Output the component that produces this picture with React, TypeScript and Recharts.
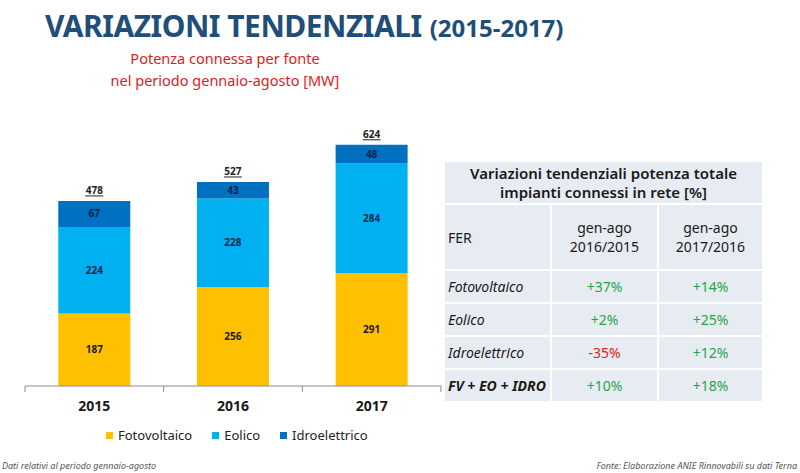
import React from "react";
import { Bar, BarChart, LabelList, Legend, XAxis, YAxis } from "recharts";

const years = ["2015", "2016", "2017"];
const fotovoltaico = [187, 256, 291];
const eolico = [224, 228, 284];
const idroelettrico = [67, 43, 48];
const totali = [478, 527, 624];

const tableRows = ["Fotovoltaico", "Eolico", "Idroelettrico", "FV + EO + IDRO"];
const var2016 = ["+37%", "+2%", "-35%", "+10%"];
const var2017 = ["+14%", "+25%", "+12%", "+18%"];

const seriesOrder = ["fv", "eo", "idro"];

const data = years.map((y, i) => ({
  year: y,
  fv: fotovoltaico[i],
  eo: eolico[i],
  idro: idroelettrico[i],
  total: totali[i],
}));

const FONT = "'Noto Sans', 'Open Sans', sans-serif";
const GREEN = "#1fa64a";
const RED = "#e0201b";

function YearTick(props: any) {
  const { x, y, payload, index } = props;
  const half = payload.offset || 69;
  return (
    <g>
      <line x1={x - half} x2={x - half} y1={y - 8} y2={y - 2} stroke="#8c8c8c" />
      {index === years.length - 1 && (
        <line x1={x + half} x2={x + half} y1={y - 8} y2={y - 2} stroke="#8c8c8c" />
      )}
      <text x={x} y={y + 17} textAnchor="middle" fontSize={14} fontWeight={700} fill="#1a1a1a" fontFamily={FONT}>
        {payload.value}
      </text>
    </g>
  );
}

function TotalLabel(props: any) {
  const { x, y, width, value } = props;
  const cx = x + width / 2;
  return (
    <g>
      <text x={cx} y={y - 7} textAnchor="middle" fontSize={10} fontWeight={700} fill="#222" fontFamily={FONT}>
        {value}
      </text>
      <line x1={cx - 9} x2={cx + 9} y1={y - 5} y2={y - 5} stroke="#222" strokeWidth={1} />
    </g>
  );
}

function LegendContent(props: any) {
  const items = [...(props.payload || [])].sort(
    (a: any, b: any) => seriesOrder.indexOf(a.dataKey) - seriesOrder.indexOf(b.dataKey)
  );
  return (
    <div style={{ display: "flex", gap: 20, paddingLeft: 106, fontFamily: FONT, fontSize: 13, color: "#222" }}>
      {items.map((p: any) => (
        <div key={p.value} style={{ display: "flex", alignItems: "center", gap: 5 }}>
          <span style={{ width: 7, height: 7, background: p.color, display: "inline-block" }} />
          <span>{p.value}</span>
        </div>
      ))}
    </div>
  );
}

const cell: React.CSSProperties = {
  background: "#e7ebf2",
  display: "flex",
  alignItems: "center",
  fontSize: 14,
  color: "#1a1a1a",
};

export default function App() {
  return (
    <div
      style={{
        position: "absolute",
        left: 0,
        top: 0,
        width: 800,
        height: 473,
        background: "#fff",
        fontFamily: FONT,
        overflow: "hidden",
      }}
    >
      <div style={{ position: "absolute", left: 45, top: 5, color: "#1f4e79", fontWeight: 700, whiteSpace: "nowrap" }}>
        <span style={{ fontSize: 30, letterSpacing: -0.5 }}>VARIAZIONI TENDENZIALI</span>
        <span style={{ fontSize: 24, marginLeft: 8 }}>(2015-2017)</span>
      </div>
      <div
        style={{
          position: "absolute",
          left: 75,
          width: 300,
          top: 47,
          textAlign: "center",
          color: RED,
          fontSize: 14.5,
          lineHeight: "22px",
        }}
      >
        Potenza connessa per fonte
        <br />
        nel periodo gennaio-agosto [MW]
      </div>

      <div style={{ position: "absolute", left: 0, top: 0 }}>
        <BarChart
          width={450}
          height={473}
          data={data}
          margin={{ top: 115, right: 9, left: 25, bottom: 57 }}
          barCategoryGap="24%"
        >
          <XAxis
            dataKey="year"
            axisLine={{ stroke: "#8c8c8c" }}
            tickLine={false}
            tick={<YearTick />}
            height={30}
          />
          <YAxis hide domain={[0, 700]} />
          <Legend
            layout="horizontal"
            verticalAlign="middle"
            align="center"
            wrapperStyle={{ top: 426, left: 0, width: 450 }}
            content={<LegendContent />}
          />
          <Bar dataKey="fv" name="Fotovoltaico" stackId="a" fill="#ffc000" isAnimationActive={false}>
            <LabelList dataKey="fv" position="center" fontSize={10} fontWeight={700} fill="#1a1a1a" fontFamily={FONT} />
          </Bar>
          <Bar dataKey="eo" name="Eolico" stackId="a" fill="#00b0f0" isAnimationActive={false}>
            <LabelList dataKey="eo" position="center" fontSize={10} fontWeight={700} fill="#14264a" fontFamily={FONT} />
          </Bar>
          <Bar dataKey="idro" name="Idroelettrico" stackId="a" fill="#0070c0" isAnimationActive={false}>
            <LabelList dataKey="idro" position="center" fontSize={10} fontWeight={700} fill="#0d2247" fontFamily={FONT} />
            <LabelList dataKey="total" content={<TotalLabel />} />
          </Bar>
        </BarChart>
      </div>

      <div
        style={{
          position: "absolute",
          left: 445,
          top: 162,
          width: 313,
          display: "grid",
          gridTemplateColumns: "105px 105px 103px",
          gridTemplateRows: "41px 64px 31px 31px 31px 31px",
          gap: 2,
        }}
      >
        <div style={{ ...cell, gridColumn: "1 / 4", justifyContent: "center", textAlign: "center", fontSize: 15, fontWeight: 600, lineHeight: "19px" }}>
          Variazioni tendenziali potenza totale
          <br />
          impianti connessi in rete [%]
        </div>
        <div style={{ ...cell, paddingLeft: 3 }}>FER</div>
        <div style={{ ...cell, justifyContent: "center", textAlign: "center", lineHeight: "19px" }}>
          gen-ago
          <br />
          2016/2015
        </div>
        <div style={{ ...cell, justifyContent: "center", textAlign: "center", lineHeight: "19px" }}>
          gen-ago
          <br />
          2017/2016
        </div>
        {tableRows.map((r, i) => (
          <React.Fragment key={r}>
            <div style={{ ...cell, paddingLeft: 3, fontStyle: "italic", fontWeight: i === tableRows.length - 1 ? 700 : 400 }}>
              {r}
            </div>
            <div style={{ ...cell, justifyContent: "center", color: var2016[i].startsWith("-") ? RED : GREEN }}>
              {var2016[i]}
            </div>
            <div style={{ ...cell, justifyContent: "center", color: var2017[i].startsWith("-") ? RED : GREEN }}>
              {var2017[i]}
            </div>
          </React.Fragment>
        ))}
      </div>

      <div style={{ position: "absolute", left: 2, top: 459, fontSize: 9, fontStyle: "italic", color: "#555" }}>
        Dati relativi al periodo gennaio-agosto
      </div>
      <div style={{ position: "absolute", right: 3, top: 459, fontSize: 9, fontStyle: "italic", color: "#555" }}>
        Fonte: Elaborazione ANIE Rinnovabili su dati Terna
      </div>
    </div>
  );
}
